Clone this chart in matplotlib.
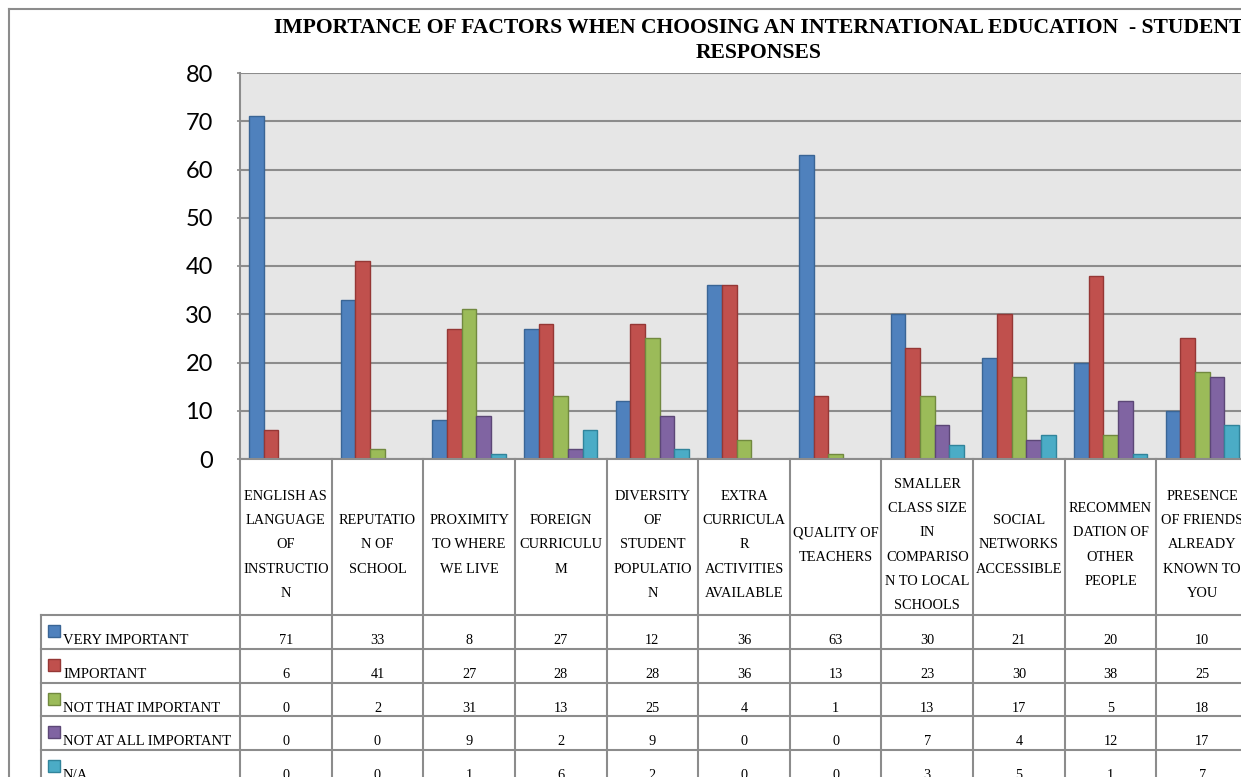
import numpy as np
import matplotlib.pyplot as plt
from matplotlib.lines import Line2D
from matplotlib.patches import Rectangle

# data
categories = [
    "ENGLISH AS\nLANGUAGE\nOF\nINSTRUCTIO\nN",
    "REPUTATIO\nN OF\nSCHOOL",
    "PROXIMITY\nTO WHERE\nWE LIVE",
    "FOREIGN\nCURRICULU\nM",
    "DIVERSITY\nOF\nSTUDENT\nPOPULATIO\nN",
    "EXTRA\nCURRICULA\nR\nACTIVITIES\nAVAILABLE",
    "QUALITY OF\nTEACHERS",
    "SMALLER\nCLASS SIZE\nIN\nCOMPARISO\nN TO LOCAL\nSCHOOLS",
    "SOCIAL\nNETWORKS\nACCESSIBLE",
    "RECOMMEN\nDATION OF\nOTHER\nPEOPLE",
    "PRESENCE\nOF FRIENDS\nALREADY\nKNOWN TO\nYOU",
]
series_names = ["VERY IMPORTANT", "IMPORTANT", "NOT THAT IMPORTANT",
                "NOT AT ALL IMPORTANT", "N/A"]
very_important = [71, 33, 8, 27, 12, 36, 63, 30, 21, 20, 10]
important = [6, 41, 27, 28, 28, 36, 13, 23, 30, 38, 25]
not_that_important = [0, 2, 31, 13, 25, 4, 1, 13, 17, 5, 18]
not_at_all_important = [0, 0, 9, 2, 9, 0, 0, 7, 4, 12, 17]
not_applicable = [0, 0, 1, 6, 2, 0, 0, 3, 5, 1, 7]
series_values = [very_important, important, not_that_important,
                 not_at_all_important, not_applicable]

title_1 = "IMPORTANCE OF FACTORS WHEN CHOOSING AN INTERNATIONAL EDUCATION  - STUDENT"
title_2 = "RESPONSES"

colors = ['#4F81BD', '#C0504D', '#9BBB59', '#8064A2', '#4BACC6']
edges = ['#3A6595', '#953735', '#71893F', '#5C4776', '#31849B']
grid_col = '#8C8C8C'
serif = 'Liberation Serif'

W, H = 1241, 777
def fx(px):
    return px / W
def fy(py):
    return 1 - py / H

fig = plt.figure(figsize=(W / 100, H / 100), dpi=100)
fig.patch.set_facecolor('white')

# plot area (runs slightly past the right edge, as in the reference)
left, right, top, bottom = 240, 1248, 73, 459
ax = fig.add_axes([fx(left), fy(bottom), (right - left) / W, (bottom - top) / H])
ax.set_facecolor('#E6E6E6')
n = len(categories)
x = np.arange(n)
ax.set_xlim(-0.5, n - 0.5)
ax.set_ylim(0, 80)

bw = 0.16
for i, vals in enumerate(series_values):
    lw = [1.0 if v > 0 else 0 for v in vals]
    ax.bar(x + (i - 2) * bw, vals, width=bw, color=colors[i],
           edgecolor=edges[i], linewidth=lw, zorder=3)

ax.set_yticks(range(0, 81, 10))
ax.set_xticks([])
ax.yaxis.grid(True, color=grid_col, linewidth=1.5)
ax.set_axisbelow(True)
for s in ['top', 'right', 'bottom']:
    ax.spines[s].set_visible(False)
ax.spines['left'].set_color(grid_col)
ax.spines['left'].set_linewidth(1.5)
ax.tick_params(axis='y', length=2.5, width=1.2, color=grid_col, pad=17,
               labelsize=17)
for lab in ax.get_yticklabels():
    lab.set_fontfamily('Lato')

# data table below the plot
row_px = 33.75
hdr = (615 - bottom) / row_px
tab_bottom = 615 + 5 * row_px
tab = fig.add_axes([fx(left), fy(tab_bottom), (right - left) / W, (tab_bottom - bottom) / H])
tab.set_xlim(-0.5, n - 0.5)
tab.set_ylim(5, -hdr)
tab.axis('off')
unit = (right - left) / n
xl = -0.5 - (left - 41) / unit

for k in range(n + 1):
    tab.plot([k - 0.5, k - 0.5], [-hdr, 5], color=grid_col, lw=1.5, clip_on=False)
tab.plot([xl, xl], [0, 5], color=grid_col, lw=1.5, clip_on=False)
tab.plot([-0.5, n - 0.5], [-hdr, -hdr], color=grid_col, lw=1.5, clip_on=False)
for r in range(6):
    tab.plot([xl, n - 0.5], [r, r], color=grid_col, lw=1.5, clip_on=False)

# category labels, one line at a time
line_step = 24.3 / row_px
mid = (545 - 615) / row_px
for j, cat in enumerate(categories):
    lines = cat.split("\n")
    for k, ln in enumerate(lines):
        yy = mid + (k - (len(lines) - 1) / 2) * line_step
        tab.text(j, yy, ln, ha='center', va='center', fontsize=10.4,
                 family=serif, clip_on=False)

for i, (name, vals) in enumerate(zip(series_names, series_values)):
    tab.add_patch(Rectangle((xl + 7 / unit, i + 10 / row_px), 12 / unit, 12 / row_px,
                            facecolor=colors[i], edgecolor=edges[i], lw=1.0,
                            clip_on=False))
    tab.text(xl + 22 / unit, i + 29 / row_px, name, ha='left', va='baseline',
             fontsize=10.5, family=serif, clip_on=False)
    for j, v in enumerate(vals):
        tab.text(j, i + 29 / row_px, str(v), ha='center', va='baseline',
                 fontsize=10.3, family=serif, clip_on=False)

# title
fig.text(fx(759), fy(33), title_1, ha='center', va='baseline', fontsize=15.6,
         fontweight='bold', family=serif)
fig.text(fx(759), fy(58), title_2, ha='center', va='baseline', fontsize=15.6,
         fontweight='bold', family=serif)

# outer chart border
fig.add_artist(Line2D([fx(9), fx(9)], [fy(9), 0], color=grid_col, lw=1.5))
fig.add_artist(Line2D([fx(9), 1], [fy(9), fy(9)], color=grid_col, lw=1.5))

fig.savefig('out.png', dpi=100)
